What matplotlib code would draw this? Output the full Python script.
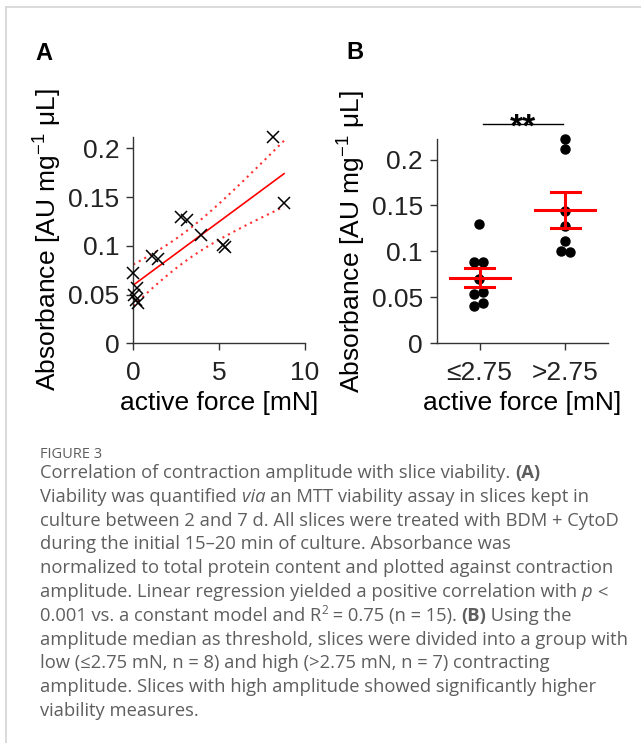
import matplotlib
matplotlib.use('Agg')
import matplotlib.pyplot as plt
import numpy as np

#%% ------------------------------- ###
###             0. Data             ###
### ------------------------------- ###

# Panel A: active force vs absorbance
force_mN = [0.0, 0.20, 0.04, 0.16, 0.29, 1.10, 1.45, 2.75, 3.10, 3.97, 5.25, 5.35, 8.14, 8.78]
absorb_A = [0.072, 0.0565, 0.0496, 0.0444, 0.0417, 0.090, 0.087, 0.130, 0.127, 0.111,
            0.1005, 0.099, 0.2115, 0.1444]

# Panel B: grouped by amplitude median
group_labels = ['\u22642.75', '>2.75']
low_x = [0.99, 0.94, 1.04, 0.99, 0.94, 1.04, 0.94, 1.04]
low_y = [0.130, 0.088, 0.089, 0.070, 0.054, 0.0556, 0.041, 0.044]
high_x = [2.00, 2.00, 2.00, 2.00, 2.00, 1.95, 2.05]
high_y = [0.222, 0.211, 0.1444, 0.1278, 0.1108, 0.100, 0.099]

yticks_A = [0, 0.05, 0.1, 0.15, 0.2]
ytick_labels = ['0', '0.05', '0.1', '0.15', '0.2']
xticks_A = [0, 5, 10]

caption_title = 'FIGURE 3'
caption = [
    [('Correlation of contraction amplitude with slice viability. ', 'r'), ('(A)', 'b')],
    [('Viability was quantified ', 'r'), ('via ', 'i'), ('an MTT viability assay in slices kept in', 'r')],
    [('culture between 2 and 7 d. All slices were treated with BDM + CytoD', 'r')],
    [('during the initial 15\u201320 min of culture. Absorbance was', 'r')],
    [('normalized to total protein content and plotted against contraction', 'r')],
    [('amplitude. Linear regression yielded a positive correlation with ', 'r'), ('p ', 'i'), ('<', 'r')],
    [('0.001 vs. a constant model and R', 'r'), ('2', 's'), (' = 0.75 (n = 15). ', 'r'), ('(B)', 'b'), (' Using the', 'r')],
    [('amplitude median as threshold, slices were divided into a group with', 'r')],
    [('low (\u22642.75 mN, n = 8) and high (>2.75 mN, n = 7) contracting', 'r')],
    [('amplitude. Slices with high amplitude showed significantly higher', 'r')],
    [('viability measures.', 'r')],
]

#%% ------------------------------- ###
###            1. Figure            ###
### ------------------------------- ###

W, H = 641, 743
plt.rcParams['font.family'] = ['Liberation Sans', 'DejaVu Sans']
plt.rcParams['mathtext.fontset'] = 'custom'
plt.rcParams['mathtext.rm'] = 'Liberation Sans'
plt.rcParams['mathtext.it'] = 'Liberation Sans:italic'
plt.rcParams['mathtext.bf'] = 'Liberation Sans:bold'
fig = plt.figure(figsize=(W / 100, H / 100), dpi=100)
renderer = fig.canvas.get_renderer()

def px_axes(l, t, r, b):
    return fig.add_axes([l / W, 1 - b / H, (r - l) / W, (b - t) / H])

def style_axes(ax):
    for s in ['top', 'right']:
        ax.spines[s].set_visible(False)
    for s in ['left', 'bottom']:
        ax.spines[s].set_color('#333333')
        ax.spines[s].set_linewidth(1.0)
    ax.tick_params(direction='out', length=5, width=1.0, color='#333333',
                   labelsize=19, labelcolor='#222222')
    ax.tick_params(axis='x', pad=8)
    ax.tick_params(axis='y', pad=5)

ylab = 'Absorbance [AU mg$^{-1}$ \u03bcL]'

# ---- Panel A
axA = px_axes(133.3, 136.7, 305, 343.3)
x = np.array(force_mN)
y = np.array(absorb_A)
axA.plot(x, y, 'x', color='black', ms=9, mew=1.1, zorder=3, clip_on=False)

# linear fit with 95 % confidence bounds
n = len(x)
slope, icpt = np.polyfit(x, y, 1)
xf = np.linspace(x.min(), x.max(), 100)
yf = icpt + slope * xf
resid = y - (icpt + slope * x)
s = np.sqrt(np.sum(resid ** 2) / (n - 2))
sxx = np.sum((x - x.mean()) ** 2)
half = 2.179 * s * np.sqrt(1 / n + (xf - x.mean()) ** 2 / sxx)
axA.plot(xf, yf, color='#ff0000', lw=1.2)
axA.plot(xf, yf + half, color='#ff3030', lw=1.5, ls=(0, (1, 2)))
axA.plot(xf, yf - half, color='#ff3030', lw=1.5, ls=(0, (1, 2)))

axA.set_xlim(0, 10)
axA.set_ylim(0, 0.212)
axA.set_xticks(xticks_A)
axA.set_yticks(yticks_A, ytick_labels)
style_axes(axA)
axA.set_xlabel('active force [mN]', fontsize=19, labelpad=4)
axA.set_ylabel(ylab, fontsize=19, labelpad=3)

# ---- Panel B
axB = px_axes(436.7, 139.3, 608.3, 343.3)
axB.plot(low_x, low_y, 'o', color='black', ms=6.5, zorder=2, clip_on=False)
axB.plot(high_x, high_y, 'o', color='black', ms=6.5, zorder=2, clip_on=False)
for c, vals in zip([1, 2], [low_y, high_y]):
    v = np.array(vals)
    m = v.mean()
    sem = v.std(ddof=1) / np.sqrt(len(v))
    axB.plot([c - 0.35, c + 0.35], [m, m], color='#ff0000', lw=2.2, zorder=3)
    axB.plot([c, c], [m - sem, m + sem], color='#ff0000', lw=2.2, zorder=3)
    for yy in [m - sem, m + sem]:
        axB.plot([c - 0.17, c + 0.17], [yy, yy], color='#ff0000', lw=2.2, zorder=3)

axB.set_xlim(0.5, 2.5)
axB.set_ylim(0, 0.222)
axB.set_xticks([1, 2], group_labels)
axB.set_yticks(yticks_A, ytick_labels)
style_axes(axB)
axB.set_xlabel('active force [mN]', fontsize=19, labelpad=4)
axB.set_ylabel(ylab, fontsize=19, labelpad=3)

# significance bar
axB.plot([1.04, 1.97], [0.2384, 0.2384], color='black', lw=1.0, clip_on=False)
axB.text(1.5, 0.2255, '**', ha='center', va='baseline', fontsize=24,
         fontweight='bold', clip_on=False)

# panel letters
fig.text(35 / W, 1 - 60 / H, 'A', fontsize=17, fontweight='bold', va='baseline')
fig.text(346 / W, 1 - 59 / H, 'B', fontsize=17, fontweight='bold', va='baseline')

# frame lines of the page
fig.add_artist(plt.Line2D([6 / W, 1], [1 - 7 / H, 1 - 7 / H], color='#d4d4d4', lw=1.2))
fig.add_artist(plt.Line2D([6 / W, 6 / W], [0, 1 - 7 / H], color='#d4d4d4', lw=1.2))

#%% ------------------------------- ###
###            2. Caption           ###
### ------------------------------- ###

cap_font = ['Open Sans', 'DejaVu Sans']
cap_col = '#5e5e5e'
fs = 13.2
styles = {
    'r': dict(family=cap_font, fontsize=fs, color=cap_col),
    'b': dict(family=cap_font, fontsize=fs, color=cap_col, fontweight='bold'),
    'i': dict(family=cap_font, fontsize=fs, color=cap_col, fontstyle='italic'),
    's': dict(family=cap_font, fontsize=fs * 0.65, color=cap_col),
}

def advance(txt, kw):
    a = fig.text(0, 0, txt + '|', **kw)
    b = fig.text(0, 0, '|', **kw)
    w = a.get_window_extent(renderer).width - b.get_window_extent(renderer).width
    a.remove()
    b.remove()
    return w

fig.text(40 / W, 1 - 458 / H, caption_title, family=cap_font, fontsize=10.5,
         color=cap_col, va='baseline')

for i, line in enumerate(caption):
    xp = 40
    base = 478 + 23.8 * i
    for txt, st in line:
        off = -6.5 if st == 's' else 0
        fig.text(xp / W, 1 - (base + off) / H, txt, va='baseline', ha='left', **styles[st])
        xp += advance(txt, styles[st])

fig.savefig('out.png', dpi=100, facecolor='white')
